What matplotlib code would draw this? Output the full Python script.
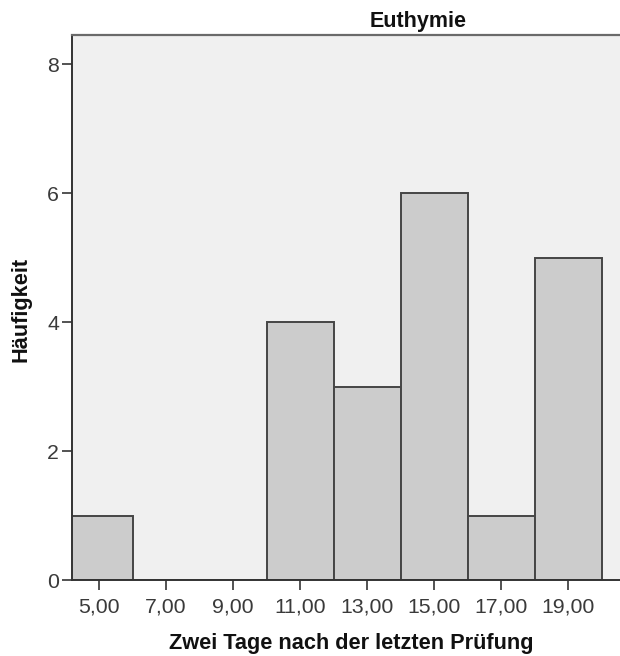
import matplotlib
matplotlib.use("Agg")
import matplotlib.pyplot as plt

plt.rcParams['font.family'] = ['Liberation Sans', 'DejaVu Sans']

# Histogram of scores two days after the last exam (group: Euthymie)
bin_centers = [5, 7, 9, 11, 13, 15, 17, 19]
counts = [1, 0, 0, 4, 3, 6, 1, 5]
bin_width = 2
x_ticks = [5, 7, 9, 11, 13, 15, 17, 19]
x_tick_labels = ["5,00", "7,00", "9,00", "11,00", "13,00", "15,00", "17,00", "19,00"]
y_ticks = [0, 2, 4, 6, 8]

panel_title = "Euthymie"
x_title = "Zwei Tage nach der letzten Prüfung"
y_title = "Häufigkeit"

W, H = 620, 656
fig = plt.figure(figsize=(W / 100, H / 100), dpi=100)
fig.patch.set_facecolor("white")

# panel extends past the right border of the figure
left_px, right_px, top_px, bottom_px = 71.7, 764.3, 35, 580
ax = fig.add_axes([left_px / W, 1 - bottom_px / H,
                   (right_px - left_px) / W, (bottom_px - top_px) / H])
ax.set_facecolor("#F0F0F0")

ax.bar(bin_centers, counts, width=bin_width, align="center",
       color="#CCCCCC", edgecolor="#454545", linewidth=1.4, zorder=2)

ax.set_xlim(4.186, 24.85)
ax.set_ylim(0, 8.45)

ax.set_xticks(x_ticks)
ax.set_xticklabels(x_tick_labels)
ax.set_yticks(y_ticks)
ax.set_yticklabels([str(v) for v in y_ticks])

ax.tick_params(axis="x", length=7.5, width=1.3, color="#444444",
               labelsize=15.3, labelcolor="#3A3A3A", pad=5)
ax.tick_params(axis="y", length=7.5, width=1.3, color="#444444",
               labelsize=15.3, labelcolor="#3A3A3A", pad=1.5)

for side in ("left", "bottom"):
    ax.spines[side].set_color("#333333")
    ax.spines[side].set_linewidth(1.4)
ax.spines["top"].set_color("#6A6A6A")
ax.spines["top"].set_linewidth(1.6)
ax.spines["right"].set_visible(False)

fig.text(418 / W, 1 - 21 / H, panel_title, ha="center", va="center",
         fontsize=15.5, fontweight="bold", color="#111111")
fig.text(351 / W, 1 - 643 / H, x_title, ha="center", va="center",
         fontsize=15.7, fontweight="bold", color="#111111")
fig.text(21 / W, 1 - 309 / H, y_title, ha="center", va="center",
         rotation=90, fontsize=15.7, fontweight="bold", color="#111111")

fig.savefig("out.png", dpi=100)
